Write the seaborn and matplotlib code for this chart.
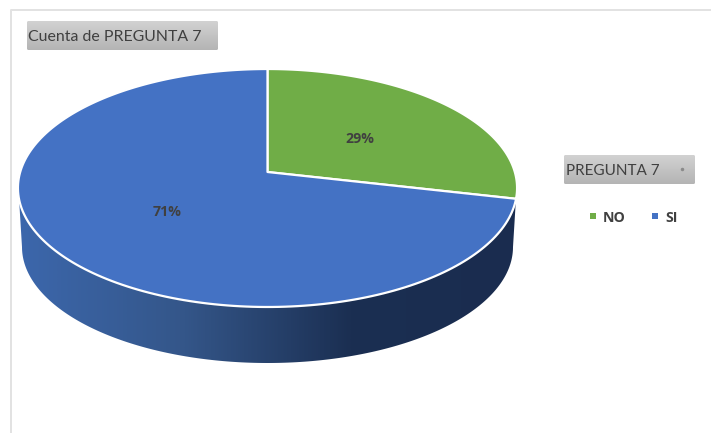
import numpy as np
import matplotlib
matplotlib.use("Agg")
import matplotlib.pyplot as plt
from matplotlib.patches import FancyBboxPatch, Polygon, Rectangle
import seaborn as sns

# Survey counts for question 7
categories = ["NO", "SI"]
counts = [10, 25]
chart_title = "Cuenta de PREGUNTA 7"
legend_title = "PREGUNTA 7"

sns.set_theme(style="white")
plt.rcParams["font.family"] = ["Lato", "DejaVu Sans"]

palette = sns.color_palette(["#70AD47", "#4472C4"])
side_cmap = sns.blend_palette(["#3C67AC", "#345689", "#1B2F52", "#1A2C4F"], as_cmap=True)
button_cmap = sns.blend_palette(["#D2D2D2", "#B4B4B4"], as_cmap=True)
text_dark = "#404040"

fig, ax = plt.subplots(figsize=(7.11, 4.33), dpi=100)
fig.subplots_adjust(0, 0, 1, 1)
ax.set_axis_off()

# Perspective view of the pie's top face: unit circle to screen pixels
CX, APEX_Y, TILT, YA, RX = 267.5, 172.0, 0.1345, -93.7, 247.3


def project(u, v):
    w = 1 + TILT * v
    return CX + RX * u / w, (YA * v + APEX_Y) / w


def slice_outline(a0, a1):
    t = np.linspace(a0, a1, 200)
    x, y = project(np.sin(t), np.cos(t))
    xa, ya = project(0.0, 0.0)
    return np.column_stack([np.r_[xa, x], np.r_[ya, y]])


# Side wall: hull of the top face and a lower, slightly narrower ellipse
t = np.linspace(0, np.pi, 200)
lower_x = 267.5 - 245.5 * np.cos(t)
lower_y = 247.0 + 116.0 * np.sin(t)
wall = np.column_stack([np.r_[18.5, lower_x, 516.5], np.r_[190.0, lower_y, 190.0]])
wall_patch = Polygon(wall, closed=True, fc="none", ec="none")
ax.add_patch(wall_patch)
ramp = np.linspace(0, 1, 512).reshape(1, -1)
wall_img = ax.imshow(ramp, extent=(18, 517, 370, 185), cmap=side_cmap, aspect="auto", zorder=1)
wall_img.set_clip_path(wall_patch)

# Top-face slices, clockwise from twelve o'clock
fractions = np.array(counts) / sum(counts)
edges = np.r_[0, np.cumsum(fractions)] * 2 * np.pi
for i, color in enumerate(palette):
    ax.add_patch(Polygon(slice_outline(edges[i], edges[i + 1]), closed=True,
                         fc=color, ec="white", lw=1.6, zorder=2, joinstyle="round"))
    mid = (edges[i] + edges[i + 1]) / 2
    lx, ly = project(0.5 * np.sin(mid), 0.5 * np.cos(mid))
    ax.text(lx, ly + 2, f"{fractions[i] * 100:.0f}%", ha="center", va="center",
            fontsize=10.2, fontweight="bold", family=["Open Sans", "DejaVu Sans"],
            color=text_dark, zorder=3)


def field_button(x0, y0, x1, y1, label, text_x, size):
    """Grey pivot-chart field button with a soft vertical gradient."""
    box = FancyBboxPatch((x0, y0), x1 - x0, y1 - y0, boxstyle="round,pad=0,rounding_size=1.5",
                         fc="none", ec="none", zorder=3)
    ax.add_patch(box)
    img = ax.imshow(np.linspace(0, 1, 64).reshape(-1, 1), extent=(x0, x1, y1, y0),
                    cmap=button_cmap, aspect="auto", zorder=3)
    img.set_clip_path(box)
    ax.text(text_x, (y0 + y1) / 2 + 1.5, label, ha="left", va="center",
            fontsize=size, color=text_dark, zorder=4)


field_button(27, 21, 218, 50, chart_title, 28, 11.4)
field_button(564, 155, 695, 184, legend_title, 566, 11.0)
ax.plot([682], [169], marker="o", ms=1.5, color="#8A8A8A", zorder=4)

# Legend entries
legend_x = [(590, 603), (652, 665)]
for (sx, tx), name, color in zip(legend_x, categories, palette):
    ax.add_patch(Rectangle((sx, 213), 6, 6, fc=color, ec="none"))
    ax.text(tx, 217.5, name, ha="left", va="center", fontsize=10.2,
            fontweight="bold", family=["Open Sans", "DejaVu Sans"], color=text_dark)

# Chart frame, running off the right and bottom edges
ax.plot([11, 11, 711], [433, 10, 10], color="#E2E2E2", lw=1.4, zorder=0)

ax.set_xlim(0, 711)
ax.set_ylim(433, 0)
fig.savefig("out.png", dpi=100)
